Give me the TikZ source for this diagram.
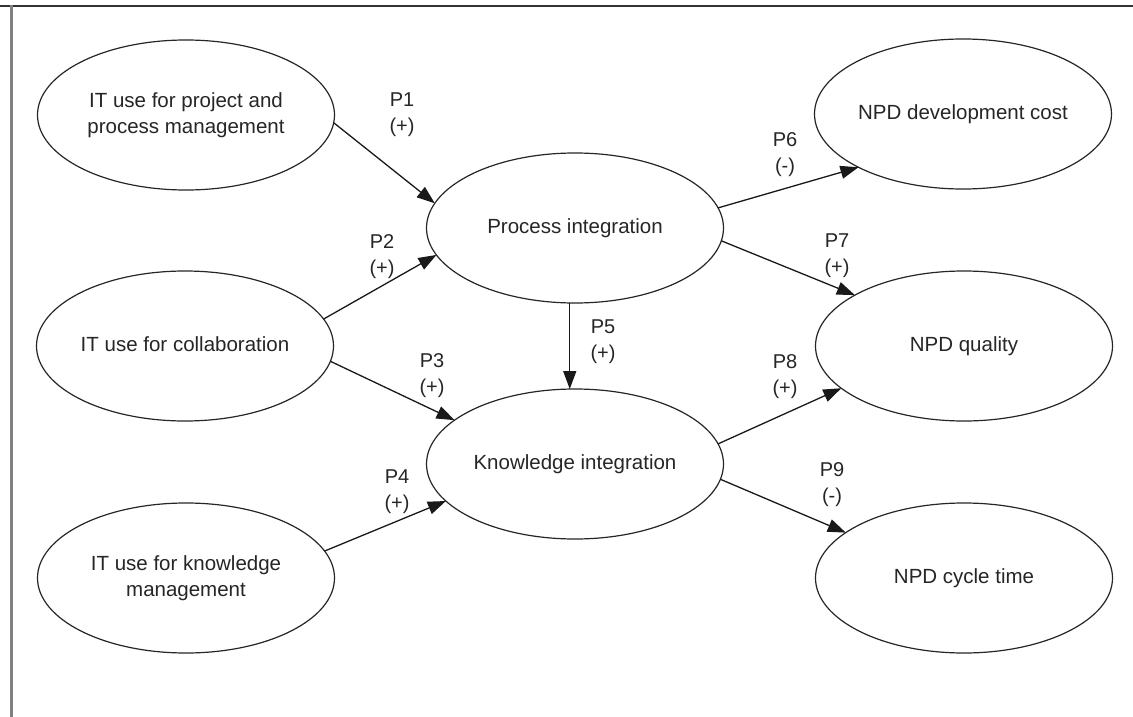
\documentclass[tikz,border=0pt]{standalone}
\usepackage{fontspec}
\setmainfont{Liberation Sans}
\usetikzlibrary{arrows.meta,shapes.geometric}
\newcommand\ctext[1]{\makebox[0pt]{\begin{tabular}{@{}c@{}}#1\end{tabular}}}
\begin{document}
\begin{tikzpicture}[x=1pt,y=-1pt,
  oval/.style={ellipse,draw=black!85,line width=1.2pt,minimum width=297pt,minimum height=150pt,inner sep=0pt,outer sep=0pt,fill=white,
    font=\fontsize{20.5}{26}\selectfont,text=black!85},
  plabel/.style={align=center,inner sep=0pt,font=\fontsize{20}{26}\selectfont,text=black!85},
  conn/.style={draw=black!90,line width=1.3pt,-{Triangle[length=18pt,width=13pt]}}]
\useasboundingbox (0,0) rectangle (1133,717);
\fill[white] (0,0) rectangle (1133,717);
\draw[line width=2pt,black!80] (0,6) -- (1133,6);
\draw[line width=3pt,black!50] (11,5) -- (11,717);

\node[oval] (e1) at (186,115) {\ctext{IT use for project and\\process management}};
\node[oval] (e2) at (185,346) {\ctext{IT use for collaboration}};
\node[oval] (e3) at (186,578) {\ctext{IT use for knowledge\\management}};
\node[oval] (pi) at (575,228) {\ctext{Process integration}};
\node[oval] (ki) at (575,464) {\ctext{Knowledge integration}};
\node[oval] (dc) at (963,114) {\ctext{NPD development cost}};
\node[oval] (q)  at (964,346) {\ctext{NPD quality}};
\node[oval] (ct) at (964,578) {\ctext{NPD cycle time}};

\draw[conn] (e1.-3.8) -- (pi.170);
\draw[conn] (e2.11.7) -- (pi.191.7);
\draw[conn] (e2.-6) -- (ki.160);
\draw[conn] (e3.11.2) -- (ki.196);
\draw[conn] (pi.266) -- (ki.94);
\draw[conn] (pi.8.2) -- (dc.207.7);
\draw[conn] (pi.-5.4) -- (q.155);
\draw[conn] (ki.8.2) -- (q.199.5);
\draw[conn] (ki.-6.2) -- (ct.159.6);

\node[plabel] (l1) at (402,115) {P1\\(+)};
\node[plabel] (l2) at (382,257) {P2\\(+)};
\node[plabel] (l3) at (432,376) {P3\\(+)};
\node[plabel] (l4) at (397,492) {P4\\(+)};
\node[plabel] (l5) at (603,342) {P5\\(+)};
\node[plabel] (l6) at (785,155) {P6\\(-)};
\node[plabel] (l7) at (837,256) {P7\\(+)};
\node[plabel] (l8) at (785,377) {P8\\(+)};
\node[plabel] (l9) at (832,485) {P9\\(-)};
\end{tikzpicture}
\end{document}
